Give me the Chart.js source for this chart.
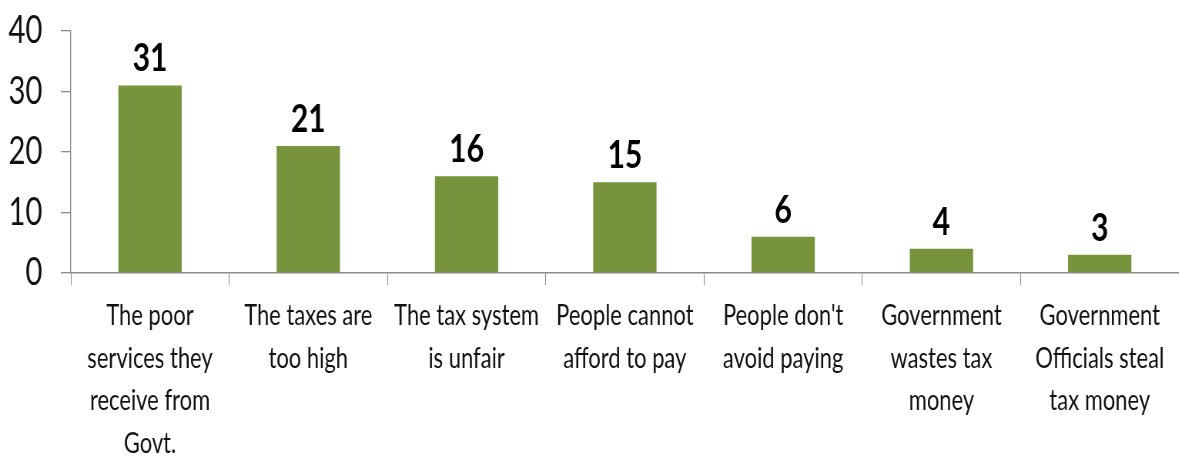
<!DOCTYPE html>
<html>
<head>
<meta charset="utf-8">
<script src="https://cdn.jsdelivr.net/npm/chart.js@4"></script>
<style>
  html, body { margin: 0; padding: 0; background: #fff; overflow: hidden; }
  /* The chart is laid out wide and then condensed horizontally, giving the tall, narrow lettering. */
  #wrap { width: 1531px; height: 458px; transform: scaleX(0.77); transform-origin: 0 0; }
</style>
</head>
<body>
<div id="wrap"><canvas id="c"></canvas></div>
<script>
const categories = [
  ['The poor', 'services they', 'receive from', 'Govt.'],
  ['The taxes are', 'too high'],
  ['The tax system', 'is unfair'],
  ['People cannot', 'afford to pay'],
  ["People don't", 'avoid paying'],
  ['Government', 'wastes tax', 'money'],
  ['Government', 'Officials steal', 'tax money']
];
const values = [31, 21, 16, 15, 6, 4, 3];
const yTicks = [0, 10, 20, 30, 40];

const FONT = 'Lato, "Open Sans", sans-serif';
const AXIS_GREY = '#8c8c8c';

// Bold value printed above each bar, positioned from the bar element itself.
const valueLabels = {
  id: 'valueLabels',
  afterDatasetsDraw(chart) {
    const ctx = chart.ctx;
    const meta = chart.getDatasetMeta(0);
    const data = chart.data.datasets[0].data;
    ctx.save();
    ctx.font = 'bold 39px ' + FONT;
    ctx.fillStyle = '#000';
    ctx.textAlign = 'center';
    ctx.textBaseline = 'alphabetic';
    meta.data.forEach((bar, i) => {
      ctx.fillText(String(data[i]), bar.x, bar.y - 14);
    });
    ctx.restore();
  }
};

new Chart(document.getElementById('c'), {
  type: 'bar',
  data: {
    labels: categories,
    datasets: [{
      data: values,
      backgroundColor: '#77933c',
      borderWidth: 0,
      categoryPercentage: 1,
      barPercentage: 0.4
    }]
  },
  options: {
    responsive: true,
    maintainAspectRatio: false,
    devicePixelRatio: 1,
    animation: false,
    layout: { padding: 0 },
    plugins: { legend: { display: false }, tooltip: { enabled: false } },
    scales: {
      x: {
        offset: true,
        afterFit(scale) { scale.height = 185; },
        grid: {
          offset: true,
          drawOnChartArea: false,
          drawTicks: true,
          tickLength: 12,
          color: AXIS_GREY,
          lineWidth: 1
        },
        border: { color: AXIS_GREY, width: 1.5 },
        ticks: {
          autoSkip: false,
          maxRotation: 0,
          minRotation: 0,
          padding: 10,
          color: '#111',
          font: { family: FONT, size: 28.5, lineHeight: 1.49 }
        }
      },
      y: {
        min: 0,
        max: 40,
        afterBuildTicks(scale) { scale.ticks = yTicks.map(v => ({ value: v })); },
        afterFit(scale) {
          scale.width = 92;
          scale.paddingTop = 31;
          scale.paddingBottom = 0;
        },
        grid: {
          drawOnChartArea: false,
          drawTicks: true,
          tickLength: 13,
          color: AXIS_GREY,
          lineWidth: 1.3
        },
        border: { color: AXIS_GREY, width: 1.3 },
        ticks: {
          padding: 24,
          color: '#111',
          font: { family: FONT, size: 38 }
        }
      }
    }
  },
  plugins: [valueLabels]
});
</script>
</body>
</html>
